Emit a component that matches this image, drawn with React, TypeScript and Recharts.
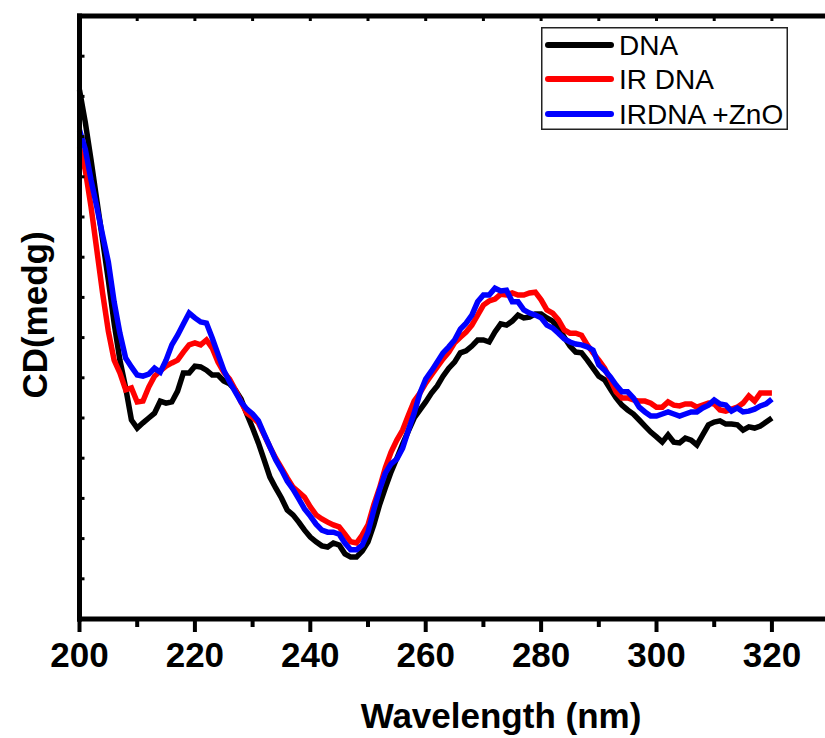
import React from 'react';
import { LineChart, Line, XAxis, YAxis, Legend, Label } from 'recharts';

const wavelength = [
  200, 201, 202, 203, 204, 205, 206, 207, 208, 209,
  210, 211, 212, 213, 214, 215, 216, 217, 218, 219,
  220, 221, 222, 223, 224, 225, 226, 227, 228, 229,
  230, 231, 232, 233, 234, 235, 236, 237, 238, 239,
  240, 241, 242, 243, 244, 245, 246, 247, 248, 249,
  250, 251, 252, 253, 254, 255, 256, 257, 258, 259,
  260, 261, 262, 263, 264, 265, 266, 267, 268, 269,
  270, 271, 272, 273, 274, 275, 276, 277, 278, 279,
  280, 281, 282, 283, 284, 285, 286, 287, 288, 289,
  290, 291, 292, 293, 294, 295, 296, 297, 298, 299,
  300, 301, 302, 303, 304, 305, 306, 307, 308, 309,
  310, 311, 312, 313, 314, 315, 316, 317, 318, 319,
  320,
];

const dna = [
  5.16, 4.36, 3.42, 2.42, 1.43, 0.43, -0.64, -1.56, -2.25, -3.05,
  -3.25, -3.12, -3.0, -2.88, -2.58, -2.63, -2.6, -2.33, -1.88, -1.88,
  -1.71, -1.73, -1.81, -1.93, -1.93, -2.08, -2.15, -2.3, -2.53, -2.9,
  -3.25, -3.62, -4.04, -4.47, -4.74, -4.99, -5.29, -5.41, -5.59, -5.79,
  -5.96, -6.08, -6.18, -6.21, -6.11, -6.16, -6.38, -6.46, -6.46, -6.31,
  -6.08, -5.66, -5.16, -4.74, -4.34, -4.0, -3.65, -3.32, -3.0, -2.8,
  -2.6, -2.38, -2.2, -1.96, -1.76, -1.61, -1.38, -1.33, -1.21, -1.06,
  -1.06, -1.11, -0.86, -0.66, -0.69, -0.59, -0.44, -0.51, -0.49, -0.41,
  -0.41, -0.51, -0.59, -0.76, -0.99, -1.21, -1.36, -1.38, -1.56, -1.76,
  -1.96, -2.05, -2.28, -2.5, -2.68, -2.8, -2.9, -3.05, -3.2, -3.35,
  -3.47, -3.6, -3.42, -3.6, -3.62, -3.5, -3.55, -3.67, -3.42, -3.17,
  -3.1, -3.07, -3.15, -3.15, -3.17, -3.3, -3.22, -3.25, -3.2, -3.1,
  -3.0,
];

const irDna = [
  3.74, 3.17, 2.25, 1.18, 0.11, -0.84, -1.56, -1.88, -2.3, -2.25,
  -2.6, -2.58, -2.23, -1.96, -1.83, -1.71, -1.63, -1.56, -1.36, -1.18,
  -1.13, -1.18, -1.06, -1.26, -1.61, -1.86, -2.03, -2.3, -2.6, -2.88,
  -2.98, -3.12, -3.42, -3.72, -4.0, -4.24, -4.49, -4.72, -4.84, -4.97,
  -5.21, -5.41, -5.51, -5.59, -5.66, -5.71, -5.89, -6.08, -6.11, -5.91,
  -5.66, -5.16, -4.74, -4.24, -3.85, -3.55, -3.3, -2.93, -2.58, -2.38,
  -2.13, -1.93, -1.73, -1.53, -1.36, -1.13, -0.99, -0.86, -0.69, -0.44,
  -0.19, -0.09, -0.04, 0.08, 0.06, 0.11, 0.06, 0.06, 0.11, 0.13,
  -0.06, -0.31, -0.39, -0.56, -0.81, -0.89, -0.89, -0.94, -1.18, -1.38,
  -1.56, -1.76, -2.05, -2.35, -2.5, -2.5, -2.55, -2.58, -2.58, -2.63,
  -2.73, -2.73, -2.6, -2.68, -2.7, -2.65, -2.65, -2.73, -2.68, -2.63,
  -2.65, -2.8, -2.83, -2.78, -2.73, -2.63, -2.45, -2.58, -2.38, -2.38,
  -2.38,
];

const irDnaZnO = [
  4.16, 3.69, 2.92, 2.25, 1.55, 0.88, -0.11, -0.89, -1.51, -1.73,
  -1.93, -1.96, -1.91, -1.76, -1.86, -1.56, -1.18, -0.94, -0.66, -0.39,
  -0.51, -0.61, -0.64, -1.01, -1.41, -1.81, -2.1, -2.35, -2.6, -2.78,
  -2.9, -3.07, -3.4, -3.72, -4.04, -4.29, -4.57, -4.77, -5.01, -5.26,
  -5.44, -5.64, -5.79, -5.84, -5.84, -5.89, -6.11, -6.28, -6.28, -6.16,
  -5.84, -5.29, -4.79, -4.37, -4.14, -4.02, -3.75, -3.3, -2.88, -2.38,
  -2.03, -1.83, -1.61, -1.38, -1.23, -1.06, -0.79, -0.64, -0.44, -0.11,
  0.06, 0.06, 0.23, 0.16, 0.18, -0.11, -0.11, -0.31, -0.39, -0.44,
  -0.51, -0.69, -0.76, -0.89, -1.03, -1.11, -1.16, -1.18, -1.23, -1.31,
  -1.68, -1.81, -1.98, -2.18, -2.35, -2.35, -2.5, -2.73, -2.85, -2.95,
  -2.95, -2.9, -2.85, -2.9, -2.95, -2.9, -2.85, -2.85, -2.75, -2.68,
  -2.55, -2.65, -2.68, -2.83, -2.75, -2.85, -2.83, -2.78, -2.7, -2.65,
  -2.53,
];

const xTicks = [200, 210, 220, 230, 240, 250, 260, 270, 280, 290, 300, 310, 320];
const xMajorLabels = [200, 220, 240, 260, 280, 300, 320];
const yTicks = [-8, -7, -6, -5, -4, -3, -2, -1, 0, 1, 2, 3, 4, 5, 6, 7];

const seriesNames = ['DNA', 'IR DNA', 'IRDNA +ZnO'];
const seriesColors = ['#000000', '#ff0000', '#0000ff'];

const rows = wavelength.map((nm, i) => ({
  nm,
  dna: dna[i],
  ir: irDna[i],
  zno: irDnaZnO[i],
}));

const FONT = '"Liberation Sans", Arial, Helvetica, sans-serif';

const BottomTick = (props: any) => {
  const { x, y, payload } = props;
  const major = xMajorLabels.includes(payload.value);
  return (
    <g>
      <line x1={x} x2={x} y1={y} y2={y + (major ? 13 : 8)} stroke="#000" strokeWidth={4} />
      {major && (
        <text x={x} y={y + 48} textAnchor="middle" fontSize={35} fontWeight="bold" fontFamily={FONT} fill="#000">
          {payload.value}
        </text>
      )}
    </g>
  );
};

const TopTick = (props: any) => {
  const { x, y } = props;
  return <line x1={x} x2={x} y1={y} y2={y + 5} stroke="#000" strokeWidth={3} />;
};

const LeftTick = (props: any) => {
  const { x, y } = props;
  return <line x1={x} x2={x + 5} y1={y} y2={y} stroke="#000" strokeWidth={3} />;
};

const LegendBox = () => (
  <svg width={248} height={104} style={{ display: 'block' }}>
    <rect x={0.75} y={0.75} width={245.5} height={101.5} fill="#fff" stroke="#222" strokeWidth={1.5} />
    {seriesNames.map((name, i) => {
      const cy = [18, 52, 87][i];
      return (
        <g key={name}>
          <line x1={7} x2={70} y1={cy} y2={cy} stroke={seriesColors[i]} strokeWidth={6} strokeLinecap="round" />
          <text x={78} y={cy + 10} fontSize={28} fontFamily={FONT} fill="#000">
            {name}
          </text>
        </g>
      );
    })}
  </svg>
);

export default function App() {
  return (
    <div style={{ position: 'absolute', left: 0, top: 0, width: 825, height: 738, background: '#fff' }}>
      <LineChart
        width={825}
        height={738}
        data={rows}
        margin={{ top: 15, right: 0, bottom: 59, left: 69.5 }}
      >
        <XAxis
          dataKey="nm"
          type="number"
          domain={[200, 329.2]}
          ticks={xTicks}
          interval={0}
          height={60}
          tickSize={0}
          tickMargin={0}
          tickLine={false}
          tick={<BottomTick />}
          axisLine={{ stroke: '#000', strokeWidth: 5, strokeLinecap: 'square' }}
        >
          <Label
            content={() => (
              <text x={501} y={728} textAnchor="middle" fontSize={35} fontWeight="bold" fontFamily={FONT} fill="#000">
                Wavelength (nm)
              </text>
            )}
          />
        </XAxis>
        <XAxis
          xAxisId="top"
          dataKey="nm"
          type="number"
          orientation="top"
          domain={[200, 329.2]}
          ticks={xTicks.slice(1)}
          interval={0}
          height={1}
          tickSize={0}
          tickMargin={0}
          tickLine={false}
          tick={<TopTick />}
          axisLine={{ stroke: '#000', strokeWidth: 5, strokeLinecap: 'square' }}
        />
        <YAxis
          type="number"
          domain={[-8, 7]}
          ticks={yTicks}
          interval={0}
          width={10}
          tickSize={0}
          tickMargin={0}
          tickLine={false}
          tick={<LeftTick />}
          axisLine={{ stroke: '#000', strokeWidth: 5, strokeLinecap: 'square' }}
        >
          <Label
            content={() => (
              <text
                x={47}
                y={315}
                textAnchor="middle"
                fontSize={35}
                fontWeight="bold"
                fontFamily={FONT}
                fill="#000"
                transform="rotate(-90 47 315)"
              >
                CD(medg)
              </text>
            )}
          />
        </YAxis>
        <Legend
          layout="horizontal"
          align="center"
          verticalAlign="middle"
          content={() => <LegendBox />}
          wrapperStyle={{ position: 'absolute', left: 541, top: 27, width: 248, height: 104 }}
        />
        <Line type="linear" dataKey="dna" name="DNA" stroke={seriesColors[0]} strokeWidth={5.5} dot={false} isAnimationActive={false} />
        <Line type="linear" dataKey="ir" name="IR DNA" stroke={seriesColors[1]} strokeWidth={5.5} dot={false} isAnimationActive={false} />
        <Line type="linear" dataKey="zno" name="IRDNA +ZnO" stroke={seriesColors[2]} strokeWidth={5.5} dot={false} isAnimationActive={false} />
      </LineChart>
    </div>
  );
}
